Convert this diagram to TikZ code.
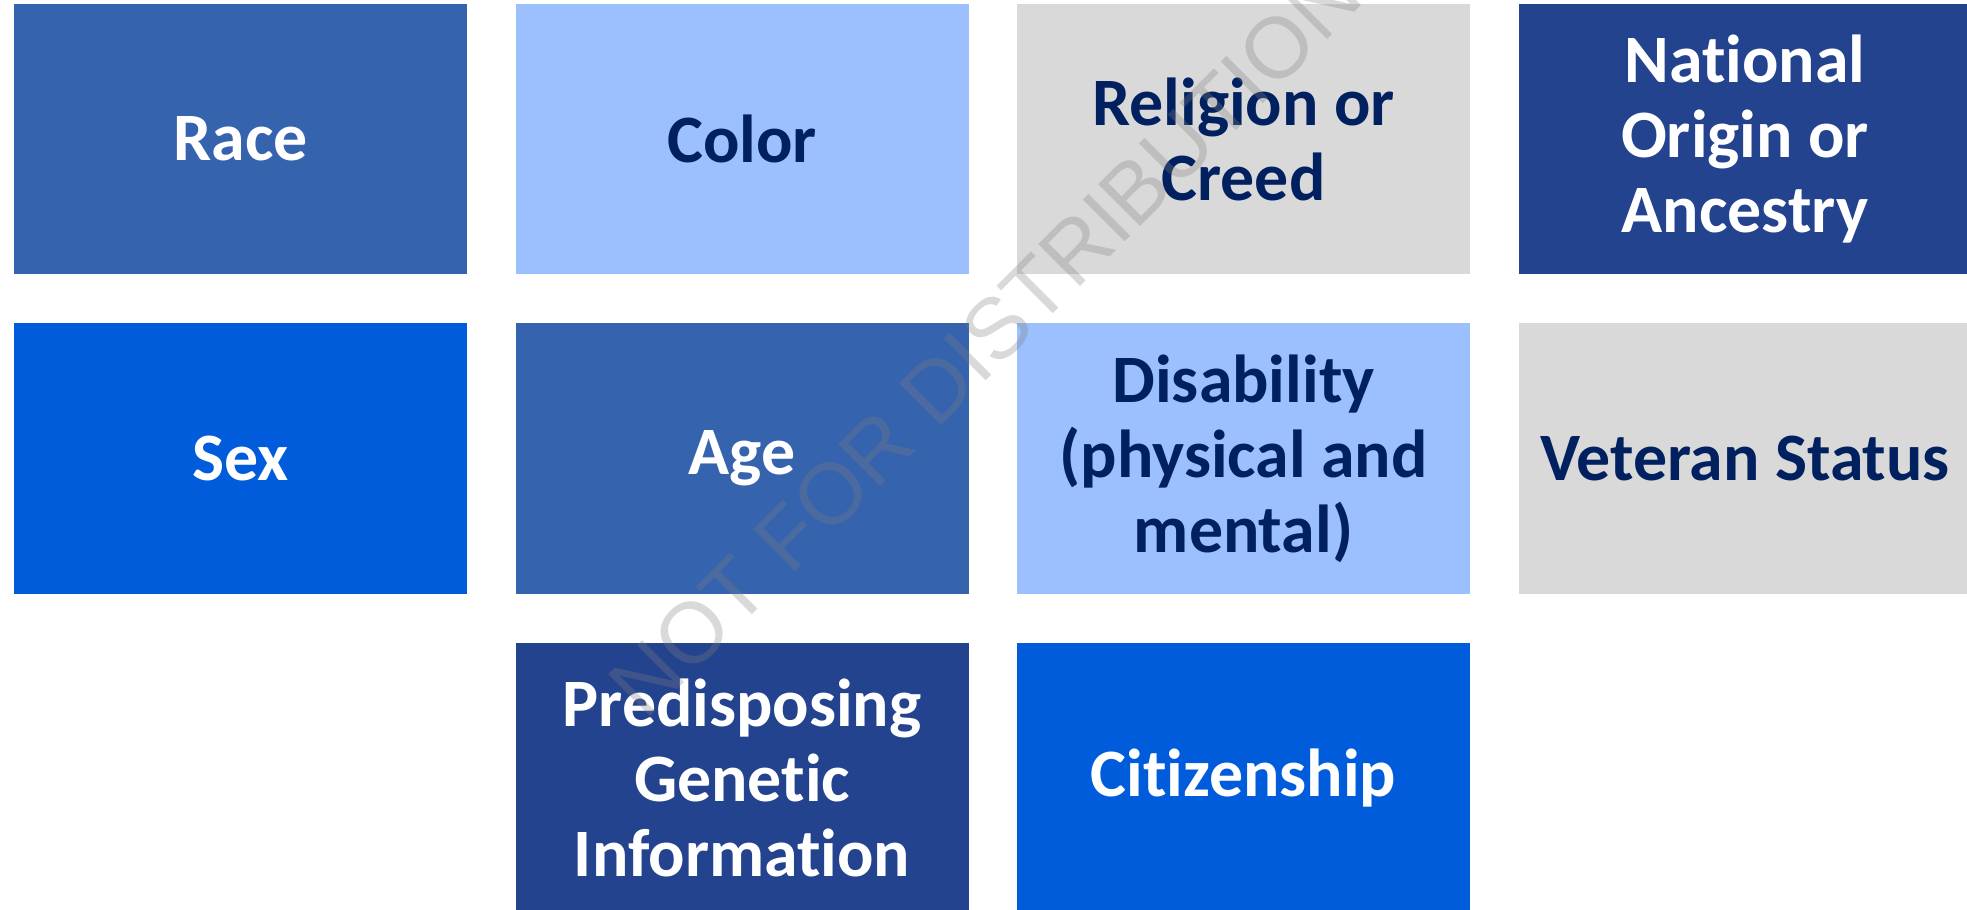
\documentclass[tikz,border=0pt]{standalone}
\usepackage{fontspec}
\setmainfont{Carlito}[Ligatures=NoCommon]
\newfontfamily\wmfont{Liberation Sans}
\usepackage{tikz}
\usetikzlibrary{positioning}
\definecolor{midblue}{HTML}{3563AE}
\definecolor{lightblue}{HTML}{9CBFFD}
\definecolor{greybox}{HTML}{D9D9D9}
\definecolor{navybox}{HTML}{24438E}
\definecolor{brightblue}{HTML}{005CDB}
\definecolor{navytext}{HTML}{002060}
\tikzset{%
  cell/.style = {rectangle,inner sep=0pt,outer sep=0pt,
        minimum width=4.53cm,minimum height=2.70cm,align=center,
        font=\bfseries\fontsize{19.3}{21.34}\selectfont},
  darkcell/.style = {cell,text=white},
  lightcell/.style = {cell,text=navytext},
  wm/.style = {inner sep=0pt,text=gray,text opacity=0.3,
        font=\wmfont\fontsize{24.5}{24.5}\selectfont}
}

\begin{document}
\begin{tikzpicture}[node distance=0.495cm and 0.485cm]
    \useasboundingbox (0,0) rectangle (19.67,9.09);
    % first row
    \node[darkcell,fill=midblue] (race) at (2.405,7.70) {Race};
    \node[lightcell,fill=lightblue,right=of race] (color) {Color};
    \node[lightcell,fill=greybox,right=of color] (religion) {Religion or\\Creed};
    \node[darkcell,fill=navybox,right=of religion] (national) {National\\Origin or\\Ancestry};
    % second row
    \node[darkcell,fill=brightblue,below=of race] (sex) {Sex};
    \node[darkcell,fill=midblue,right=of sex] (age) {Age};
    \node[lightcell,fill=lightblue,right=of age] (disability) {Disability\\(physical and\\mental)};
    \node[lightcell,fill=greybox,right=of disability] (veteran) {Veteran Status};
    % third row
    \node[darkcell,fill=navybox,below=of age] (genetic) {Predisposing\\Genetic\\Information};
    \node[darkcell,fill=brightblue,right=of genetic] (citizen) {Citizenship};
    % watermark
    \node[wm,anchor=base west,rotate=45] (stamp) at (6.45,1.87) {NOT FOR DISTRIBUTION};
\end{tikzpicture}
\end{document}
